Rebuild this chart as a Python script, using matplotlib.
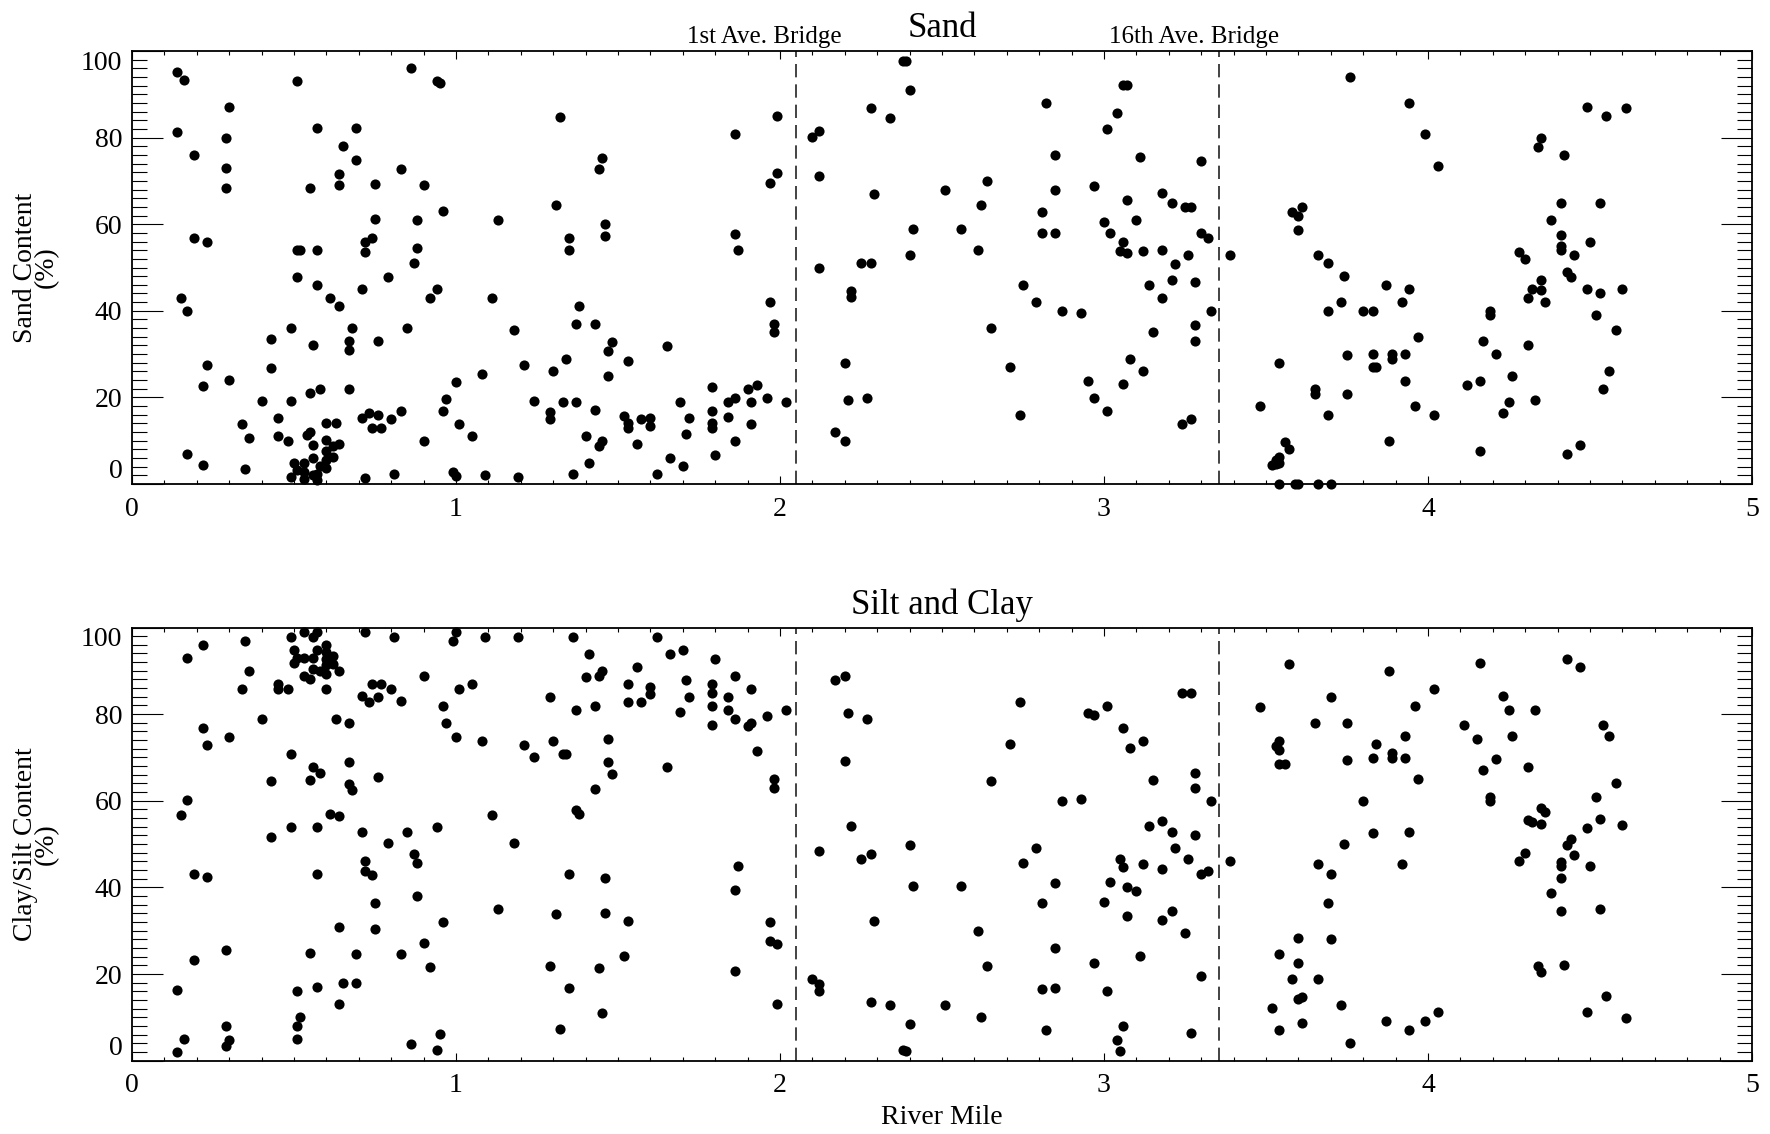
import matplotlib
matplotlib.use("Agg")
import matplotlib.pyplot as plt
from matplotlib.ticker import MultipleLocator

# ---------------------------------------------------------------------------
# Sediment grain size along the river (River Mile vs percent content)
# ---------------------------------------------------------------------------

# Sand content: river mile and percent
sand_mile = [
    0.14, 0.16, 0.51, 0.86, 0.94, 0.95, 0.30, 0.14, 0.29, 0.57,
    0.69, 0.19, 0.65, 0.69, 0.29, 0.83, 0.64, 0.29, 0.55, 0.64,
    0.75, 0.90, 0.96, 0.75, 0.88, 1.13, 0.19, 0.23, 0.51, 0.52,
    0.57, 0.72, 0.74, 0.72, 0.88, 0.87, 0.51, 0.79, 0.57, 0.71,
    0.94, 0.92, 0.61, 0.64, 0.15, 0.17, 1.11, 0.49, 0.68, 0.85,
    1.18, 0.43, 0.67, 0.76, 0.56, 0.67, 0.23, 1.21, 0.43, 1.08,
    0.30, 0.22, 1.00, 0.55, 0.58, 0.67, 0.40, 0.49, 0.97, 1.24,
    0.96, 0.83, 0.45, 0.71, 0.73, 0.76, 0.80, 0.34, 0.60, 0.63,
    0.74, 0.77, 1.01, 0.36, 0.45, 0.48, 0.54, 0.55, 1.05, 0.90,
    0.56, 0.60, 0.64, 0.62, 0.60, 0.62, 0.60, 0.56, 0.17, 0.22,
    0.35, 0.50, 0.53, 0.58, 0.60, 0.51, 0.53, 0.49, 0.53, 0.56,
    0.57, 0.57, 0.72, 0.81, 0.99, 1.00, 1.09, 1.19,
    1.32, 1.45, 1.44, 1.31, 1.46, 1.46, 1.35, 1.35, 1.86, 1.99,
    1.99, 1.97, 1.86, 1.87, 1.38, 1.37, 1.43, 1.97, 1.98, 1.98,
    1.48, 1.47, 1.65, 1.34, 1.53, 1.30, 1.47, 1.33, 1.37, 1.29,
    1.29, 1.43, 1.52, 1.53, 1.53, 1.57, 1.60, 1.60, 1.40, 1.45,
    1.44, 1.56, 1.41, 1.36, 1.62, 1.66, 1.70, 1.69, 1.72, 1.71,
    1.79, 1.79, 1.79, 1.79, 1.80, 1.84, 1.86, 1.84, 1.86, 1.90,
    1.93, 1.91, 1.91, 1.96, 2.02,
    2.38, 2.39, 2.40, 2.28, 2.34, 2.12, 2.10, 2.12, 2.29, 2.51,
    2.41, 2.40, 2.12, 2.25, 2.28, 2.22, 2.22, 2.20, 2.21, 2.27,
    2.17, 2.20,
    3.06, 3.07, 2.82, 3.04, 3.01, 2.85, 3.11, 3.30, 2.64, 2.85,
    2.97, 2.62, 3.07, 3.18, 3.21, 3.25, 3.27, 2.81, 3.00, 3.10,
    2.56, 2.81, 2.85, 3.02, 3.06, 3.30, 3.32, 2.61, 3.05, 3.07,
    3.12, 3.18, 3.26, 3.22, 3.39, 2.75, 3.14, 3.21, 3.28, 3.18,
    2.79, 2.87, 2.93, 3.33, 2.65, 3.15, 3.28, 3.28, 3.08, 2.71,
    3.12, 2.95, 3.06, 2.97, 3.01, 2.74, 3.24, 3.27,
    3.76, 3.58, 3.61, 3.60, 3.60, 3.66, 3.69, 3.74, 3.73, 3.69,
    3.75, 3.54, 3.65, 3.65, 3.75, 3.48, 3.69, 3.56, 3.57, 3.54,
    3.53, 3.53, 3.52, 3.54, 3.54, 3.59, 3.60, 3.66, 3.70,
    3.94, 3.99, 4.03, 4.49, 4.55, 4.61, 4.35, 4.34, 4.42, 4.41,
    4.53, 4.38, 4.41, 4.41, 4.41, 4.50, 4.45, 4.28, 4.30, 4.43,
    4.44, 4.35, 4.32, 4.35, 4.31, 4.36, 4.49, 4.53, 4.60, 4.52,
    4.58, 3.87, 3.94, 3.92, 3.80, 3.83, 4.19, 4.19, 3.97, 3.83,
    3.89, 3.89, 3.93, 3.83, 3.84, 3.93, 4.17, 4.21, 4.31, 4.26,
    4.16, 4.12, 4.25, 4.23, 4.33, 3.96, 4.02, 4.56, 4.54, 3.88,
    4.16, 4.43, 4.47,
]
sand_pct = [
    95.1, 93.4, 93.0, 96.0, 93.1, 92.6, 87.0, 81.4, 80.0, 82.3,
    82.2, 76.0, 78.0, 74.8, 73.0, 72.7, 71.5, 68.3, 68.4, 69.0,
    69.3, 69.0, 63.0, 61.2, 60.9, 60.9, 56.8, 56.0, 54.0, 54.0,
    54.0, 55.9, 56.9, 53.5, 54.5, 51.0, 47.9, 47.9, 45.9, 45.0,
    45.0, 43.0, 43.0, 41.0, 43.0, 40.0, 43.0, 36.0, 36.0, 36.0,
    35.6, 33.4, 33.0, 33.0, 32.0, 30.9, 27.4, 27.4, 26.7, 25.5,
    24.0, 22.7, 23.6, 21.0, 21.9, 21.9, 19.2, 19.1, 19.6, 19.2,
    16.9, 16.9, 15.2, 15.2, 16.3, 15.9, 14.9, 13.9, 14.0, 14.0,
    13.0, 13.0, 13.9, 10.6, 11.2, 10.0, 11.4, 12.0, 11.2, 10.0,
    8.9, 10.2, 9.3, 8.8, 7.7, 6.3, 5.5, 5.9, 6.9, 4.5,
    3.4, 4.9, 4.9, 4.2, 3.7, 3.2, 2.8, 1.7, 1.1, 2.0,
    0.9, 2.2, 1.5, 2.3, 2.8, 1.8, 2.1, 1.6,
    84.7, 75.4, 72.7, 64.4, 60.1, 57.2, 56.9, 54.0, 80.9, 84.9,
    71.9, 69.6, 57.7, 54.0, 41.0, 37.0, 36.9, 42.0, 37.0, 35.0,
    32.7, 30.7, 31.9, 28.9, 28.3, 26.0, 24.9, 19.0, 19.0, 16.6,
    14.9, 17.0, 15.6, 14.0, 13.0, 14.9, 15.2, 13.5, 11.2, 9.9,
    8.7, 9.2, 4.9, 2.3, 2.4, 6.1, 4.2, 18.9, 15.2, 11.5,
    22.3, 16.9, 14.0, 13.0, 6.8, 18.9, 19.9, 15.5, 10.0, 21.9,
    22.9, 18.9, 13.9, 19.9, 19.0,
    97.7, 97.8, 90.9, 86.9, 84.6, 81.5, 80.1, 71.1, 66.9, 67.9,
    59.0, 53.0, 50.0, 51.0, 51.0, 44.6, 43.1, 27.9, 19.5, 19.9,
    11.9, 10.0,
    92.1, 92.1, 88.0, 85.6, 81.9, 75.9, 75.5, 74.5, 69.9, 67.9,
    68.9, 64.4, 65.6, 67.3, 64.9, 64.0, 64.0, 62.9, 60.5, 60.9,
    58.9, 57.9, 57.9, 57.9, 56.0, 57.9, 56.9, 54.0, 53.9, 53.4,
    53.7, 54.0, 52.9, 50.9, 52.9, 46.0, 46.0, 47.0, 46.7, 43.0,
    42.0, 40.0, 39.4, 40.0, 36.0, 35.0, 36.7, 33.0, 28.9, 27.0,
    26.0, 23.9, 23.0, 19.9, 16.9, 15.9, 13.9, 14.9,
    94.0, 62.9, 64.0, 61.9, 58.7, 52.9, 51.0, 48.0, 42.0, 40.0,
    29.9, 27.9, 21.9, 20.9, 20.9, 18.0, 15.9, 9.6, 8.1, 6.3,
    5.5, 4.6, 4.3, 4.8, 0.0, 0.0, 0.0, 0.0, 0.0,
    87.9, 80.9, 73.5, 87.0, 84.9, 86.9, 80.0, 77.9, 75.9, 64.9,
    64.9, 60.9, 57.4, 55.0, 54.0, 56.0, 53.0, 53.6, 51.9, 49.0,
    47.9, 47.0, 45.0, 44.8, 43.0, 42.0, 45.0, 44.0, 45.0, 39.0,
    35.6, 46.0, 45.0, 42.1, 40.0, 40.0, 40.0, 39.0, 34.0, 30.0,
    30.0, 28.9, 30.0, 27.0, 27.0, 23.9, 33.0, 30.0, 32.0, 24.9,
    23.9, 22.9, 18.9, 16.3, 19.4, 17.9, 15.9, 26.0, 21.9, 9.9,
    7.6, 7.0, 8.9,
]

# Silt and clay content: river mile and percent
fines_mile = [
    0.53, 0.57, 0.56, 0.49, 0.72, 0.81, 1.00, 0.99, 1.09, 1.19,
    0.35, 0.22, 0.17, 0.50, 0.57, 0.60, 0.60, 0.62, 0.51, 0.53,
    0.56, 0.50, 0.60, 0.60, 0.62, 0.56, 0.58, 0.64, 0.60, 0.53,
    0.55, 0.36, 0.90, 0.45, 0.45, 0.34, 0.48, 0.60, 0.74, 0.77,
    0.80, 0.71, 0.76, 0.73, 0.83, 1.01, 1.05, 0.96, 0.97, 1.00,
    1.08, 1.21, 1.24, 0.40, 0.63, 0.67, 0.22, 0.30, 0.23, 0.49,
    0.67, 0.56, 0.58, 0.76, 0.43, 0.55, 0.67, 0.68, 0.17, 0.15,
    0.61, 0.64, 1.11, 0.49, 0.57, 0.94, 0.43, 0.71, 0.85, 0.79,
    1.18, 0.87, 0.88, 0.72, 0.72, 0.74, 0.19, 0.23, 0.57, 0.88,
    0.75, 1.13, 0.64, 0.75, 0.96, 0.90, 0.29, 0.19, 0.55, 0.69,
    0.83, 0.92, 0.14, 0.51, 0.57, 0.65, 0.69, 0.64, 0.52, 0.51,
    0.51, 0.29, 0.30, 0.29, 0.16, 0.14, 0.95, 0.94, 0.86,
    1.36, 1.62, 1.41, 1.66, 1.70, 1.80, 1.56, 1.45, 1.44, 1.40,
    1.71, 1.86, 1.53, 1.60, 1.60, 1.79, 1.79, 1.91, 1.72, 1.84,
    1.29, 1.53, 1.57, 1.43, 1.79, 1.37, 1.69, 1.84, 1.86, 1.90,
    1.91, 1.96, 2.02, 1.79, 1.30, 1.47, 1.33, 1.34, 1.47, 1.48,
    1.65, 1.93, 1.43, 1.98, 1.98, 1.37, 1.38, 1.87, 1.86, 1.35,
    1.46, 1.31, 1.46, 1.53, 1.97, 1.97, 1.99, 1.52, 1.29, 1.44,
    1.86, 1.35, 1.99, 1.45, 1.32,
    2.20, 2.17, 2.21, 2.27, 2.20, 2.22, 2.40, 2.12, 2.25, 2.28,
    2.41, 2.29, 2.10, 2.12, 2.12, 2.28, 2.34, 2.51, 2.40, 2.38,
    2.39,
    3.57, 2.74, 3.24, 3.27, 2.95, 2.97, 3.01, 3.48, 3.70, 3.06,
    3.65, 3.75, 2.71, 3.08, 3.12, 3.54, 3.53, 3.54, 3.54, 3.56,
    3.75, 2.65, 3.15, 3.28, 3.28, 2.87, 2.93, 3.33, 3.18,
    3.14, 3.21, 3.28, 3.22, 3.74, 2.79, 2.75, 3.05, 3.06, 3.12,
    3.18, 3.26, 3.30, 3.32, 3.39, 3.66, 3.70, 2.56, 2.85, 3.02,
    3.07, 3.10, 2.81, 3.00, 3.21, 3.18, 3.07, 3.25, 3.69, 2.61,
    2.85, 3.60, 3.70, 2.64, 2.97, 3.11, 3.54, 3.60, 3.58, 3.66,
    3.30, 2.81, 2.85, 3.01, 3.60, 3.61, 3.52, 3.73, 2.62, 2.82,
    3.06, 3.27, 3.54, 3.61, 3.76, 3.04, 3.05,
    4.43, 4.47, 4.16, 3.88, 4.02, 3.96, 4.23, 4.25, 4.33, 4.11,
    4.15, 4.26, 4.54, 4.56, 3.93, 3.84, 3.83, 3.89, 3.89, 3.93,
    4.21, 4.17, 4.31, 3.97, 4.58, 3.80, 4.19, 4.19, 4.52, 4.35,
    4.36, 4.31, 4.32, 4.35, 4.53, 4.49, 4.60, 3.83, 3.94, 4.44,
    4.43, 4.45, 4.30, 4.28, 4.41, 4.41, 4.50, 3.92, 4.41, 4.38,
    4.41, 4.53, 4.34, 4.35, 4.42, 4.55, 4.49, 4.61, 3.87, 3.94,
    3.99, 4.03,
]
fines_pct = [
    99.0, 99.0, 97.8, 97.8, 99.0, 97.8, 99.0, 96.9, 97.8, 97.8,
    96.9, 95.9, 92.9, 94.9, 94.9, 95.9, 94.4, 93.5, 93.0, 93.0,
    93.0, 91.9, 92.8, 91.3, 91.5, 90.5, 90.0, 89.9, 89.2, 88.9,
    88.0, 89.9, 88.9, 86.9, 85.9, 85.9, 85.9, 85.8, 86.9, 86.9,
    85.9, 84.3, 83.9, 82.9, 83.0, 85.9, 86.9, 81.9, 77.9, 74.8,
    73.8, 72.9, 70.2, 78.9, 78.9, 77.9, 76.8, 74.8, 72.9, 70.9,
    68.9, 67.9, 66.5, 65.5, 64.6, 64.9, 63.9, 62.5, 60.2, 56.8,
    57.0, 56.5, 56.8, 53.9, 53.9, 53.9, 51.6, 52.9, 52.9, 50.2,
    50.3, 47.6, 45.6, 46.0, 43.9, 42.9, 43.2, 42.3, 43.0, 38.0,
    36.4, 35.1, 30.8, 30.5, 32.0, 27.1, 25.5, 23.3, 24.8, 24.7,
    24.6, 21.7, 16.4, 16.0, 17.1, 18.0, 17.9, 13.0, 10.0, 8.0,
    5.0, 7.9, 4.7, 3.4, 4.9, 2.1, 6.2, 2.5, 3.9,
    97.8, 97.8, 93.8, 93.8, 94.8, 92.8, 90.8, 90.0, 88.9, 88.6,
    87.9, 88.9, 86.9, 86.3, 84.7, 86.9, 84.9, 85.9, 84.0, 83.9,
    83.9, 82.9, 82.9, 81.9, 81.9, 80.9, 80.4, 81.0, 78.9, 77.2,
    77.9, 79.6, 80.9, 77.5, 73.9, 74.2, 70.9, 70.9, 68.9, 66.2,
    67.9, 71.6, 62.8, 65.0, 62.9, 57.8, 56.9, 45.0, 39.4, 43.0,
    42.2, 33.8, 34.2, 32.2, 32.1, 27.7, 26.9, 24.2, 21.8, 21.3,
    20.7, 16.8, 13.2, 11.1, 7.4,
    88.9, 87.9, 80.3, 78.9, 69.2, 54.1, 49.8, 48.5, 46.6, 47.8,
    40.3, 32.3, 18.8, 17.8, 16.1, 13.5, 12.8, 12.8, 8.4, 2.5,
    2.2,
    91.5, 82.9, 84.9, 84.9, 80.2, 79.9, 81.9, 81.7, 83.9, 76.9,
    77.9, 77.9, 73.1, 72.2, 73.9, 73.7, 72.6, 71.8, 68.5, 68.5,
    69.4, 64.5, 64.9, 66.3, 62.9, 60.0, 60.3, 60.0, 55.3,
    54.1, 52.7, 52.1, 49.0, 50.0, 49.0, 45.7, 46.6, 44.7, 45.4,
    44.2, 46.5, 43.2, 43.7, 46.2, 45.5, 43.0, 40.4, 41.0, 41.2,
    40.1, 39.1, 36.5, 36.7, 34.6, 32.5, 33.3, 29.5, 36.4, 30.0,
    26.1, 28.3, 28.2, 21.9, 22.5, 24.2, 24.7, 22.6, 18.9, 18.9,
    19.6, 16.5, 16.7, 16.1, 14.2, 14.7, 12.2, 12.9, 10.0, 7.0,
    8.0, 6.3, 7.2, 8.8, 4.2, 4.7, 2.2,
    92.8, 90.8, 91.8, 89.9, 85.8, 81.9, 84.3, 80.9, 80.9, 77.5,
    74.3, 75.0, 77.5, 75.0, 75.0, 73.2, 69.9, 71.0, 69.9, 69.9,
    69.7, 67.1, 67.9, 65.0, 64.2, 60.0, 60.8, 60.0, 60.9, 58.4,
    57.3, 55.5, 55.2, 54.7, 55.7, 53.8, 54.3, 52.6, 52.8, 51.2,
    49.9, 47.5, 48.0, 46.2, 45.9, 44.9, 45.0, 45.4, 42.2, 38.8,
    34.5, 35.1, 21.9, 20.4, 22.2, 15.0, 11.2, 9.9, 9.2, 7.1,
    9.2, 11.3,
]

# Bridge locations (river mile) and their labels
bridge_mile = [2.05, 3.354]
bridge_label_mile = [1.951, 3.278]
bridge_names = ["1st Ave. Bridge", "16th Ave. Bridge"]

x_ticks = [0, 1, 2, 3, 4, 5]
y_ticks = [0, 20, 40, 60, 80, 100]

assert len(sand_mile) == len(sand_pct)
assert len(fines_mile) == len(fines_pct)

plt.rcParams['font.family'] = ['Liberation Serif', 'DejaVu Serif']

W, H = 1770, 1134
fig = plt.figure(figsize=(W / 100, H / 100), dpi=100)

ax_top = fig.add_axes([132 / W, 1 - 484 / H, 1620 / W, 433 / H])
ax_bot = fig.add_axes([132 / W, 1 - 1060.7 / H, 1620 / W, 433.2 / H])


def style_axes(ax, title, ylabel, show_bridge_names):
    ax.set_xlim(0, 5)
    ax.set_ylim(0, 100)
    ax.set_xticks(x_ticks)
    ax.set_yticks(y_ticks)
    ax.xaxis.set_minor_locator(MultipleLocator(0.1))
    ax.yaxis.set_minor_locator(MultipleLocator(2))
    ax.tick_params(which='both', direction='in', top=True, right=True,
                   colors='black', labelsize=20, width=0.8)
    ax.tick_params(axis='x', which='major', length=5.5, pad=9)
    ax.tick_params(axis='x', which='minor', length=2.6)
    ax.tick_params(axis='y', which='major', length=22.5, pad=7)
    ax.tick_params(axis='y', which='minor', length=11)
    for sp in ax.spines.values():
        sp.set_linewidth(1.3)
    labels = ax.get_yticklabels()
    labels[0].set_va('bottom')
    labels[-1].set_va('top')

    for xm in bridge_mile:
        ax.axvline(xm, color='#222222', lw=1.2, ls=(0, (8, 4.2)))

    ax.text(0.5, 1.032, title, transform=ax.transAxes, ha='center',
            va='baseline', fontsize=25)
    ax.text(-0.0593, 0.5, ylabel, transform=ax.transAxes, rotation=90,
            ha='center', va='center', fontsize=20, linespacing=0.82)
    if show_bridge_names:
        tr = ax.get_xaxis_transform()
        for xm, name in zip(bridge_label_mile, bridge_names):
            ax.text(xm, 1.018, name, transform=tr, ha='center',
                    va='baseline', fontsize=18)


style_axes(ax_top, "Sand", "Sand Content\n(%)", True)
style_axes(ax_bot, "Silt and Clay", "Clay/Silt Content\n(%)", False)

ax_top.plot(sand_mile, sand_pct, 'o', color='black', ms=7.3, mew=0,
            linestyle='none', clip_on=False, zorder=3)
ax_bot.plot(fines_mile, fines_pct, 'o', color='black', ms=7.3, mew=0,
            linestyle='none', clip_on=False, zorder=3)

fig.text(942 / W, 1 - 1117.5 / H, "River Mile", ha='center', va='center',
         fontsize=20)

fig.savefig("out.png", dpi=100, facecolor='white')
